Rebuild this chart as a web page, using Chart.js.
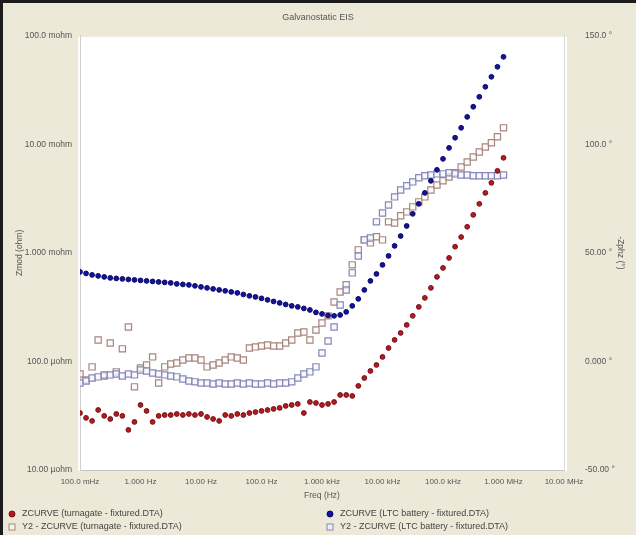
<!DOCTYPE html>
<html>
<head>
<meta charset="utf-8">
<title>Galvanostatic EIS</title>
<script src="https://cdn.jsdelivr.net/npm/chart.js@4/dist/chart.umd.min.js"></script>
<style>
  body { margin: 0; background: #ece9d8; overflow: hidden; }
  canvas { display: block; }
</style>
</head>
<body>
<canvas id="chart" width="636" height="535"></canvas>
<script>
// frequencies, 10 points per decade, 100 mHz .. 1 MHz
const freqHz = [
  0.1, 0.1259, 0.1585, 0.1995, 0.2512, 0.3162, 0.3981, 0.5012, 0.631, 0.7943,
  1, 1.259, 1.585, 1.995, 2.512, 3.162, 3.981, 5.012, 6.31, 7.943,
  10, 12.59, 15.85, 19.95, 25.12, 31.62, 39.81, 50.12, 63.1, 79.43,
  100, 125.9, 158.5, 199.5, 251.2, 316.2, 398.1, 501.2, 631, 794.3,
  1000, 1259, 1585, 1995, 2512, 3162, 3981, 5012, 6310, 7943,
  10000, 12590, 15850, 19950, 25120, 31620, 39810, 50120, 63100, 79430,
  100000, 125900, 158500, 199500, 251200, 316200, 398100, 501200, 631000, 794300,
  1000000
]

// |Z| in ohm
const zmodTurnagate = [
  3.35e-5, 3.02e-5, 2.83e-5, 3.57e-5, 3.15e-5, 2.95e-5, 3.28e-5, 3.15e-5, 2.34e-5, 2.77e-5,
  3.97e-5, 3.50e-5, 2.77e-5, 3.15e-5, 3.21e-5, 3.21e-5, 3.28e-5, 3.21e-5, 3.28e-5, 3.21e-5,
  3.28e-5, 3.08e-5, 2.95e-5, 2.83e-5, 3.21e-5, 3.15e-5, 3.28e-5, 3.21e-5, 3.35e-5, 3.42e-5,
  3.50e-5, 3.57e-5, 3.65e-5, 3.73e-5, 3.89e-5, 3.97e-5, 4.06e-5, 3.35e-5, 4.23e-5, 4.14e-5,
  3.97e-5, 4.06e-5, 4.23e-5, 4.91e-5, 4.91e-5, 4.81e-5, 5.95e-5, 7.04e-5, 8.17e-5, 9.28e-5,
  1.10e-4, 1.33e-4, 1.58e-4, 1.83e-4, 2.17e-4, 2.63e-4, 3.18e-4, 3.85e-4, 4.76e-4, 6.01e-4,
  7.27e-4, 8.99e-4, 1.14e-3, 1.40e-3, 1.74e-3, 2.24e-3, 2.83e-3, 3.57e-3, 4.42e-3, 5.70e-3,
  7.51e-3
]
const zmodLtc = [
  6.68e-4, 6.47e-4, 6.27e-4, 6.14e-4, 6.01e-4, 5.88e-4, 5.82e-4, 5.76e-4, 5.70e-4, 5.64e-4,
  5.58e-4, 5.52e-4, 5.46e-4, 5.40e-4, 5.35e-4, 5.29e-4, 5.18e-4, 5.12e-4, 5.07e-4, 4.97e-4,
  4.86e-4, 4.76e-4, 4.66e-4, 4.56e-4, 4.47e-4, 4.37e-4, 4.28e-4, 4.14e-4, 4.02e-4, 3.93e-4,
  3.81e-4, 3.69e-4, 3.57e-4, 3.46e-4, 3.35e-4, 3.25e-4, 3.18e-4, 3.08e-4, 2.98e-4, 2.83e-4,
  2.74e-4, 2.65e-4, 2.63e-4, 2.68e-4, 2.86e-4, 3.25e-4, 3.77e-4, 4.56e-4, 5.52e-4, 6.40e-4,
  7.75e-4, 9.38e-4, 1.16e-3, 1.43e-3, 1.77e-3, 2.29e-3, 2.83e-3, 3.57e-3, 4.61e-3, 5.82e-3,
  7.35e-3, 9.28e-3, 1.15e-2, 1.42e-2, 1.79e-2, 2.22e-2, 2.74e-2, 3.39e-2, 4.19e-2, 5.18e-2,
  6.40e-2
]

// -phase in degrees
const phaseTurnagate = [
  -5.8, -8.5, -2.5, 9.9, -6.7, 8.5, -4.8, 5.8, 15.9, -11.7,
  -3.0, -1.6, 2.1, -9.9, -2.5, -1.2, -0.7, 0.7, 1.6, 1.6,
  0.7, -2.5, -1.6, -0.7, 0.7, 2.1, 1.6, 0.7, 6.2, 6.7,
  7.1, 7.6, 7.1, 7.1, 8.5, 9.9, 13.1, 13.6, 9.9, 14.5,
  17.7, 21.0, 27.4, 32.0, 35.3, 44.5, 51.4, 56.0, 54.6, 57.4,
  56.0, 64.3, 63.8, 67.1, 68.9, 71.2, 73.5, 75.8, 79.0, 81.3,
  83.2, 85.0, 86.9, 89.6, 91.9, 94.2, 96.5, 98.8, 100.7, 103.5,
  107.6
]
const phaseLtc = [
  -9.9, -9.0, -7.6, -7.1, -6.2, -6.2, -5.8, -6.7, -5.8, -6.2,
  -3.9, -4.4, -5.3, -5.8, -6.2, -6.7, -7.1, -8.1, -9.0, -9.4,
  -9.9, -9.9, -10.4, -9.9, -10.4, -10.4, -9.9, -10.4, -9.9, -10.4,
  -10.4, -9.9, -10.4, -9.9, -9.9, -9.4, -7.6, -5.8, -4.8, -2.5,
  3.9, 9.4, 15.9, 26.0, 32.9, 40.8, 48.6, 56.0, 56.9, 64.3,
  68.4, 72.1, 75.8, 79.0, 80.9, 82.7, 84.6, 85.5, 85.9, 86.4,
  86.4, 86.9, 86.4, 85.9, 85.9, 85.5, 85.5, 85.5, 85.5, 85.5,
  85.9
]

const freqTicks = [0.1, 1, 10, 100, 1e3, 1e4, 1e5, 1e6, 1e7]
const zmodTicks = [1e-5, 1e-4, 1e-3, 1e-2, 1e-1]
const phaseTicks = [-50, 0, 50, 100, 150]

const textColor = "#555"
const fontFamily = "'Liberation Sans', Arial, sans-serif"

function fmtFreq(v) {
  if (v >= 1e6) return (v / 1e6).toPrecision(4) + " MHz"
  if (v >= 1e3) return (v / 1e3).toPrecision(4) + " kHz"
  if (v >= 1) return v.toPrecision(4) + " Hz"
  return (v * 1e3).toPrecision(4) + " mHz"
}
function fmtOhm(v) {
  if (v >= 0.00099) return (v * 1e3).toPrecision(4) + " mohm"
  return (v * 1e6).toPrecision(4) + " µohm"
}
function fmtDeg(v) {
  return Number(v).toPrecision(4) + " °"
}

function points(ys) {
  return freqHz.map((f, i) => ({ x: f, y: ys[i] }))
}

// beige frame, white plot area, window border
const frame = {
  id: "frame",
  beforeDraw(chart) {
    const ctx = chart.ctx
    const a = chart.chartArea
    ctx.save()
    ctx.fillStyle = "#ece9d8"
    ctx.fillRect(0, 0, chart.width, chart.height)
    ctx.fillStyle = "#ffffff"
    ctx.fillRect(a.left - 2, a.top + 1, a.right - a.left + 5, a.bottom - a.top)
    ctx.fillStyle = "#1c1c1c"
    ctx.fillRect(0, 0, 3, chart.height)
    ctx.fillRect(0, 0, chart.width, 3)
    ctx.restore()
  }
}

// two column legend under the axis title
const legendGrid = {
  id: "legendGrid",
  afterDraw(chart) {
    const ctx = chart.ctx
    ctx.save()
    ctx.font = "9px " + fontFamily
    ctx.textBaseline = "middle"
    chart.data.datasets.forEach((ds, i) => {
      const x = i < 2 ? 12 : 330
      const y = i % 2 === 0 ? 514 : 527
      ctx.fillStyle = ds.backgroundColor
      ctx.strokeStyle = ds.borderColor
      ctx.lineWidth = 1
      if (ds.pointStyle === "rect") {
        ctx.fillRect(x - 3, y - 3, 6, 6)
        ctx.strokeRect(x - 3, y - 3, 6, 6)
      } else {
        ctx.beginPath()
        ctx.arc(x, y, 3, 0, Math.PI * 2)
        ctx.fill()
        ctx.stroke()
      }
      ctx.fillStyle = "#444"
      ctx.fillText(ds.label, x + 10, y)
    })
    ctx.restore()
  }
}

const datasets = [
  {
    label: "ZCURVE (turnagate - fixtured.DTA)",
    data: points(zmodTurnagate),
    yAxisID: "y",
    pointStyle: "circle",
    pointRadius: 2.4,
    backgroundColor: "#b01c22",
    borderColor: "#7c0c10",
    borderWidth: 1,
    order: 1
  },
  {
    label: "Y2 - ZCURVE (turnagate - fixtured.DTA)",
    data: points(phaseTurnagate),
    yAxisID: "y2",
    pointStyle: "rect",
    pointRadius: 4.4,
    backgroundColor: "rgba(255,248,246,0.6)",
    borderColor: "#a4867f",
    borderWidth: 1.2,
    order: 3
  },
  {
    label: "ZCURVE (LTC battery - fixtured.DTA)",
    data: points(zmodLtc),
    yAxisID: "y",
    pointStyle: "circle",
    pointRadius: 2.4,
    backgroundColor: "#12129a",
    borderColor: "#08086a",
    borderWidth: 1,
    order: 0
  },
  {
    label: "Y2 - ZCURVE (LTC battery - fixtured.DTA)",
    data: points(phaseLtc),
    yAxisID: "y2",
    pointStyle: "rect",
    pointRadius: 4.4,
    backgroundColor: "rgba(244,244,255,0.6)",
    borderColor: "#8686b8",
    borderWidth: 1.2,
    order: 2
  }
]

const tickFont = { family: fontFamily, size: 8.5 }

const config = {
  type: "scatter",
  data: { datasets: datasets },
  options: {
    responsive: false,
    animation: false,
    layout: { padding: 0 },
    plugins: {
      legend: { display: false },
      tooltip: { enabled: false },
      title: {
        display: true,
        text: "Galvanostatic EIS",
        color: textColor,
        font: { family: fontFamily, size: 9, weight: "normal" },
        padding: { top: 12, bottom: 13 }
      }
    },
    scales: {
      x: {
        type: "logarithmic",
        position: "bottom",
        min: 0.1,
        max: 1e7,
        afterBuildTicks: (s) => { s.ticks = freqTicks.map((v) => ({ value: v })) },
        afterFit: (s) => { s.height = 65 },
        grid: { display: false, drawTicks: false },
        border: { display: true, color: "#c4c4c4", dash: [2, 2] },
        ticks: { callback: fmtFreq, autoSkip: false, maxRotation: 0, padding: 7, color: textColor, font: { family: fontFamily, size: 8 } },
        title: { display: true, text: "Freq (Hz)", color: textColor, font: { family: fontFamily, size: 8.5 }, padding: { top: 0, bottom: 34 } }
      },
      y: {
        type: "logarithmic",
        position: "left",
        min: 1e-5,
        max: 0.1,
        afterBuildTicks: (s) => { s.ticks = zmodTicks.map((v) => ({ value: v })) },
        afterFit: (s) => { s.width = 80 },
        grid: { display: false, drawTicks: false },
        border: { display: true, color: "#d0d0d0" },
        ticks: { callback: fmtOhm, padding: 8, color: textColor, font: tickFont },
        title: { display: true, text: "Zmod (ohm)", color: textColor, font: { family: fontFamily, size: 8.5 }, padding: { top: 15, bottom: 0 } }
      },
      y2: {
        type: "linear",
        position: "right",
        min: -50,
        max: 150,
        afterBuildTicks: (s) => { s.ticks = phaseTicks.map((v) => ({ value: v })) },
        afterFit: (s) => { s.width = 72 },
        grid: { display: false, drawTicks: false },
        border: { display: true, color: "#d8d8d8", dash: [2, 3] },
        ticks: { callback: fmtDeg, padding: 21, color: textColor, font: tickFont },
        title: { display: true, text: "-Zphz (°)", color: textColor, font: { family: fontFamily, size: 8.5 }, padding: { top: 11, bottom: 0 } }
      }
    }
  },
  plugins: [frame, legendGrid]
}

const myChart = new Chart(document.getElementById("chart"), config)
</script>
</body>
</html>
